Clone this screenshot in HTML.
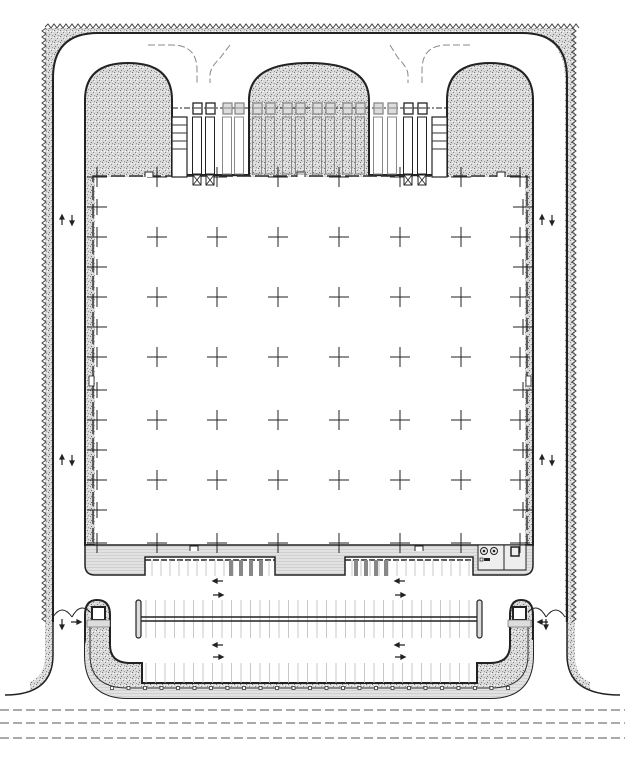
<!DOCTYPE html>
<html><head><meta charset="utf-8"><style>
html,body{margin:0;padding:0;background:#fff;width:625px;height:759px;overflow:hidden}
svg{display:block}
</style></head><body>
<svg id="s" width="625" height="759" viewBox="0 0 625 759" xmlns="http://www.w3.org/2000/svg">
<defs>
<pattern id="st" width="6" height="6" patternUnits="userSpaceOnUse">
<rect width="6" height="6" fill="#d8d8d8"/>
<rect x="0" y="0" width="1" height="1" fill="#777"/><rect x="3" y="2" width="1" height="1" fill="#888"/>
<rect x="1" y="4" width="1" height="1" fill="#777"/><rect x="4" y="5" width="1" height="1" fill="#999"/>
<rect x="5" y="1" width="1" height="1" fill="#fff"/><rect x="2" y="1" width="1" height="1" fill="#fff"/>
<rect x="4" y="3" width="1" height="1" fill="#eee"/>
</pattern>
<pattern id="lg" width="4" height="3" patternUnits="userSpaceOnUse">
<rect width="4" height="3" fill="#e2e2e2"/><rect y="0" width="4" height="1" fill="#d0d0d0"/>
</pattern>
</defs>
<g id="g" stroke-linecap="butt"></g>
</svg>
<script>
var g=document.getElementById('g'),h='';
function a(s){h+=s;}
a('<path d="M45,28 L575,28 L575,622 L565,622 L565,80 Q565,33 520,33 L95,33 Q53,33 53,80 L53,622 L45,622 Z" fill="url(#st)"/>');
// lower stipple strips following road curve
a('<path d="M45,620 L53,620 L53,655 Q53,686 30,690 L30,682 Q45,676 45,655 Z" fill="url(#st)"/>');
a('<path d="M567,620 L575,620 L575,655 Q575,676 590,682 L590,690 Q567,686 567,655 Z" fill="url(#st)"/>');
var z='M45,27';for(var x=45;x<575;x+=6){z+=' L'+(x+3)+',24 L'+(x+6)+',28';}a('<path d="'+z+'" fill="none" stroke="#444" stroke-width="1"/>');
z='M46,28';for(var y=28;y<620;y+=6){z+=' L42,'+(y+3)+' L46,'+(y+6);}a('<path d="'+z+'" fill="none" stroke="#444" stroke-width="1"/>');
z='M572,28';for(var y=28;y<620;y+=6){z+=' L576,'+(y+3)+' L572,'+(y+6);}a('<path d="'+z+'" fill="none" stroke="#444" stroke-width="1"/>');
a('<path d="M53,622 L53,78 Q53,33 98,33 L522,33 Q567,33 567,78 L567,622" fill="none" stroke="#222" stroke-width="2"/>');
a('<path d="M53,620 L53,655 Q53,695 5,695" fill="none" stroke="#222" stroke-width="1.5"/>');
a('<path d="M567,620 L567,655 Q567,695 620,695" fill="none" stroke="#222" stroke-width="1.5"/>');
a('<path d="M85,545 L85,100 Q85,63 128,63 Q172,63 172,100 L172,175 L249,175 L249,100 Q249,63 309,63 Q369,63 369,100 L369,175 L447,175 L447,100 Q447,63 490,63 Q533,63 533,100 L533,545 Z" fill="url(#st)" stroke="#222" stroke-width="2"/>');
a('<rect x="95" y="177" width="430" height="368" fill="#fff"/>');
a('<rect x="93" y="176" width="434" height="370" fill="none" stroke="#333" stroke-width="1.5" stroke-dasharray="14,4"/>');
a('<path d="M85,545 L533,545 L533,565 Q533,575 523,575 L473,575 L473,557 L345,557 L345,575 L275,575 L275,557 L145,557 L145,575 L95,575 Q85,575 85,565 Z" fill="url(#lg)" stroke="#222" stroke-width="1.5"/>');
a('<line x1="145" y1="560" x2="275" y2="560" stroke="#222" stroke-width="1.5" stroke-dasharray="6,2"/><line x1="345" y1="560" x2="473" y2="560" stroke="#222" stroke-width="1.5" stroke-dasharray="6,2"/>');
for(var x=152;x<270;x+=9)a('<line x1="'+x+'" y1="560" x2="'+x+'" y2="576" stroke="#bbb" stroke-width="0.8"/>');
for(var x=352;x<470;x+=9)a('<line x1="'+x+'" y1="560" x2="'+x+'" y2="576" stroke="#bbb" stroke-width="0.8"/>');
[230,240,250,260,355,365,375,385].forEach(function(x){a('<rect x="'+(x-1)+'" y="560" width="4" height="16" fill="#888"/>');});
a('<rect x="478" y="545" width="48" height="25" fill="#eee" stroke="#222" stroke-width="1"/><line x1="504" y1="545" x2="504" y2="570" stroke="#222"/>');
a('<circle cx="484" cy="551" r="3.5" fill="none" stroke="#222"/><circle cx="484" cy="551" r="1.3" fill="#222"/><circle cx="494" cy="551" r="3.5" fill="none" stroke="#222"/><circle cx="494" cy="551" r="1.3" fill="#222"/>');
a('<rect x="511" y="547" width="8" height="9" fill="none" stroke="#222" stroke-width="1.5"/><rect x="480" y="558" width="3" height="3" fill="none" stroke="#222" stroke-width=".7"/><rect x="484" y="558" width="6" height="3" fill="#222"/>');
var cx=[97,157,217,278,339,400,461,520],cy=[177,237,297,357,420,480,543];
cy.forEach(function(y,j){cx.forEach(function(x,i){a('<path d="M'+(x-10)+','+y+' H'+(x+10)+' M'+x+','+(y-10)+' V'+(y+10)+'" stroke="#222" stroke-width="1"/>');});});
[207,267,327,390,450,510].forEach(function(y){a('<path d="M87,'+y+' H107 M97,'+(y-8)+' V'+(y+8)+' M513,'+y+' H533 M523,'+(y-8)+' V'+(y+8)+'" stroke="#222" stroke-width="1"/>');});
[[145,172],[297,172],[497,172],[190,546],[415,546]].forEach(function(p){a('<path d="M'+p[0]+','+(p[1]+5)+' v-5 h8 v5" fill="#fff" stroke="#222" stroke-width="1"/>');});
a('<rect x="89" y="376" width="5" height="10" fill="#fff" stroke="#222" stroke-width=".8"/><rect x="526" y="376" width="5" height="10" fill="#fff" stroke="#222" stroke-width=".8"/>');
a('<line x1="172" y1="108" x2="447" y2="108" stroke="#222" stroke-width="1" stroke-dasharray="6,2,2,2"/>');
[[172,117],[432,117]].forEach(function(p){a('<rect x="'+p[0]+'" y="'+p[1]+'" width="15" height="60" fill="#fff" stroke="#222" stroke-width="1.2"/>');for(var k=1;k<5;k++)a('<line x1="'+p[0]+'" y1="'+(p[1]+k*8)+'" x2="'+(p[0]+15)+'" y2="'+(p[1]+k*8)+'" stroke="#333"/>');});
var tx=[197,210,227,239,257,270,287,300,317,330,347,360,378,392,408,422];
tx.forEach(function(x,i){var dark=(i<2||i>13);var c=dark?'#222':'#888';
a('<rect x="'+(x-4)+'" y="103" width="9" height="11" fill="'+(dark?'#fff':'#ddd')+'" stroke="'+c+'" stroke-width="1.3"/><line x1="'+(x-3)+'" y1="108" x2="'+(x+4)+'" y2="108" stroke="'+c+'"/>');
a('<rect x="'+(x-4.5)+'" y="117" width="9" height="57" fill="'+(dark?'#fff':'none')+'" stroke="'+c+'" stroke-width="1"/>');
if(dark)a('<rect x="'+(x-4)+'" y="175" width="8" height="10" fill="#fff" stroke="#222"/><path d="M'+(x-4)+',175 l8,10 M'+(x+4)+',175 l-8,10" stroke="#222" stroke-width=".8"/>');});
a('<path d="M148,45 H172 Q197,45 197,70 V83 M230,45 L220,58 Q210,68 210,75 V83" fill="none" stroke="#888" stroke-width="1" stroke-dasharray="7,3"/>');
a('<path d="M470,45 H447 Q422,45 422,70 V83 M390,45 L398,58 Q408,68 408,75 V83" fill="none" stroke="#888" stroke-width="1" stroke-dasharray="7,3"/>');
function arr(x,y,up){a(up?'<path d="M'+x+','+(y+5)+' V'+(y-2)+' M'+(x-2)+','+(y-1)+' L'+x+','+(y-5)+' L'+(x+2)+','+(y-1)+'Z" stroke="#222" fill="#222" stroke-width="1.2"/>':'<path d="M'+x+','+(y-5)+' V'+(y+2)+' M'+(x-2)+','+(y+1)+' L'+x+','+(y+5)+' L'+(x+2)+','+(y+1)+'Z" stroke="#222" fill="#222" stroke-width="1.2"/>');}
[[62,220],[62,460],[542,220],[542,460]].forEach(function(p){arr(p[0],p[1],true);arr(p[0]+10,p[1],false);});
function harr(x,y,left){a(left?'<path d="M'+(x+5)+','+y+' H'+(x-2)+' M'+(x-1)+','+(y-2)+' L'+(x-5)+','+y+' L'+(x-1)+','+(y+2)+'Z" stroke="#222" fill="#222" stroke-width="1.3"/>':'<path d="M'+(x-5)+','+y+' H'+(x+2)+' M'+(x+1)+','+(y-2)+' L'+(x+5)+','+y+' L'+(x+1)+','+(y+2)+'Z" stroke="#222" fill="#222" stroke-width="1.3"/>');}
[218,400].forEach(function(x){harr(x,581,true);harr(x,595,false);harr(x,645,true);harr(x,657,false);});
a('<path d="M85,615 Q85,600 97,600 Q110,600 110,615 L110,645 Q110,663 130,663 L142,663 L142,683 L477,683 L477,663 L490,663 Q510,663 510,645 L510,615 Q510,600 521,600 Q533,600 533,615 L533,655 Q533,698 490,698 L128,698 Q85,698 85,655 Z" fill="url(#st)" stroke="#222" stroke-width="2"/>');
a('<path d="M85,640 L85,655 Q85,698 128,698 L490,698 Q533,698 533,655 L533,640 L530,640 L530,655 Q530,688 490,688 L128,688 Q88,688 88,655 Z" fill="url(#lg)"/>');
a('<path d="M90,620 V655 Q90,688 128,688 H490 Q528,688 528,655 V620" fill="none" stroke="#333" stroke-width="1"/>');
for(var x=112;x<510;x+=16.5)a('<rect x="'+(x-1.5)+'" y="686.5" width="3" height="3" fill="#fff" stroke="#222" stroke-width=".7"/>');
[[92,607],[513,607]].forEach(function(p){a('<rect x="'+p[0]+'" y="'+p[1]+'" width="13" height="13" fill="#fff" stroke="#222" stroke-width="2"/><rect x="'+(p[0]-5)+'" y="'+(p[1]+13)+'" width="23" height="7" fill="#ddd" stroke="#555" stroke-width=".6"/>');});
a('<path d="M53,617 Q62,603 72,617 M72,617 Q80,602 90,612" fill="none" stroke="#222" stroke-width="1"/><path d="M528,612 Q538,602 546,617 M546,617 Q556,603 565,617" fill="none" stroke="#222" stroke-width="1"/>');
arr(62,624,false);arr(546,624,false);harr(76,622,false);harr(543,622,true);
for(var x=146;x<476;x+=9.5){a('<line x1="'+x+'" y1="600" x2="'+x+'" y2="638" stroke="#bbb" stroke-width=".8"/><line x1="'+x+'" y1="663" x2="'+x+'" y2="683" stroke="#bbb" stroke-width=".8"/>');}
a('<line x1="140" y1="617" x2="478" y2="617" stroke="#222" stroke-width="1.5"/><line x1="140" y1="621" x2="478" y2="621" stroke="#222" stroke-width="1.5"/>');
a('<rect x="136" y="600" width="5" height="38" rx="2.5" fill="#ddd" stroke="#222" stroke-width="1.2"/><rect x="477" y="600" width="5" height="38" rx="2.5" fill="#ddd" stroke="#222" stroke-width="1.2"/>');
[710,723,738].forEach(function(y){a('<line x1="0" y1="'+y+'" x2="625" y2="'+y+'" stroke="#555" stroke-width="1" stroke-dasharray="9,4"/>');});
g.innerHTML=h;
</script>
</body></html>
